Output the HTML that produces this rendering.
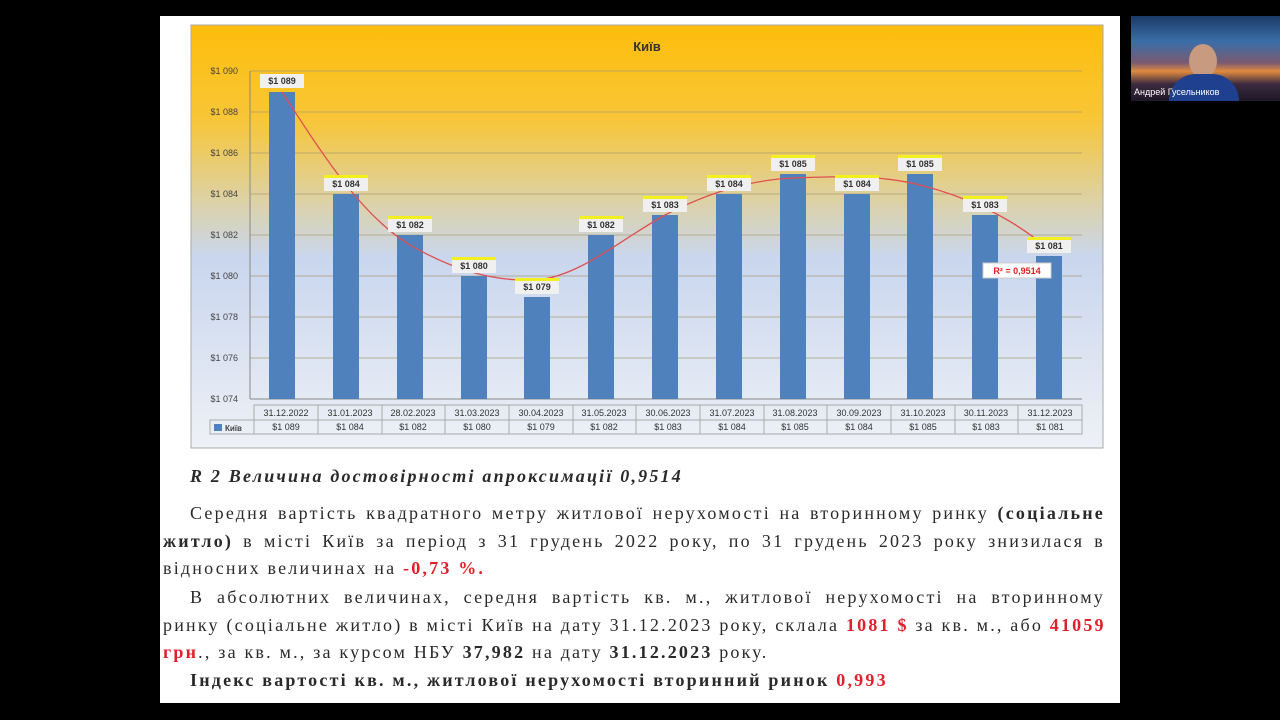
<!DOCTYPE html>
<html><head><meta charset="utf-8"><style>
body{margin:0;width:1280px;height:720px;background:#000;position:relative;overflow:hidden;font-family:"Liberation Serif",serif}
.page{position:absolute;left:160px;top:16px;width:960px;height:687px;background:#fff}
.ln{position:absolute;left:163px;width:942px;font-size:18px;letter-spacing:2.2px;color:#2a2a2a;white-space:nowrap;text-align:justify;text-align-last:justify;line-height:20px}
.ln b{font-weight:bold}
.r{color:#e0202a;font-weight:bold}
.cam{position:absolute;left:1131px;top:16px;width:149px;height:85px;background:linear-gradient(180deg,#1b3a66 0%,#3a6ea8 30%,#7a5a70 55%,#e08a40 65%,#3a2a40 80%,#201828 100%)}
</style></head><body>
<div class="page"></div>
<svg style="position:absolute;left:0;top:0" width="1280" height="720">
<defs>
<linearGradient id="bg" x1="0" y1="0" x2="0" y2="1">
<stop offset="0" stop-color="#fdbd0a"/><stop offset="0.22" stop-color="#f8c636"/><stop offset="0.42" stop-color="#dcd2a8"/><stop offset="0.55" stop-color="#c9d6ee"/><stop offset="1" stop-color="#eef1f6"/>
</linearGradient>
</defs>
<rect x="191" y="25" width="912" height="423" fill="url(#bg)" stroke="#aaa"/>
<text x="647" y="51" font-family="Liberation Sans" font-weight="bold" font-size="13" fill="#333" text-anchor="middle">Київ</text>
<g stroke="#a89a70" stroke-width="1" opacity="0.7">
<line x1="250" y1="71" x2="1082" y2="71"/><line x1="250" y1="112" x2="1082" y2="112"/><line x1="250" y1="153" x2="1082" y2="153"/><line x1="250" y1="194" x2="1082" y2="194"/><line x1="250" y1="235" x2="1082" y2="235"/><line x1="250" y1="276" x2="1082" y2="276"/><line x1="250" y1="317" x2="1082" y2="317"/><line x1="250" y1="358" x2="1082" y2="358"/>
</g>
<line x1="250" y1="71" x2="250" y2="399" stroke="#888"/><line x1="250" y1="399" x2="1082" y2="399" stroke="#888"/>
<g font-family="Liberation Sans" font-size="9" fill="#444" text-anchor="end">
<text x="238" y="74">$1 090</text><text x="238" y="115">$1 088</text><text x="238" y="156">$1 086</text><text x="238" y="197">$1 084</text><text x="238" y="238">$1 082</text><text x="238" y="279">$1 080</text><text x="238" y="320">$1 078</text><text x="238" y="361">$1 076</text><text x="238" y="402">$1 074</text>
</g>
<g fill="#4f81bd">
<rect x="269" y="92" width="26" height="307"/><rect x="333" y="194" width="26" height="205"/><rect x="397" y="235" width="26" height="164"/><rect x="461" y="276" width="26" height="123"/><rect x="524" y="297" width="26" height="102"/><rect x="588" y="235" width="26" height="164"/><rect x="652" y="215" width="26" height="184"/><rect x="716" y="194" width="26" height="205"/><rect x="780" y="174" width="26" height="225"/><rect x="844" y="194" width="26" height="205"/><rect x="907" y="174" width="26" height="225"/><rect x="972" y="215" width="26" height="184"/><rect x="1036" y="256" width="26" height="143"/>
</g>
<path d="M282,92 C320,150 360,215 410,245 C450,268 490,282 537,280 C580,276 620,240 665,215 C710,192 750,180 793,178 C840,176 880,175 920,185 C960,195 1010,215 1049,250" fill="none" stroke="#e05050" stroke-width="1.3"/>
<g font-family="Liberation Sans" font-weight="bold" font-size="9" fill="#333" text-anchor="middle">
<g fill="#f0f0f0"><rect x="260" y="74" width="44" height="14"/><rect x="324" y="177" width="44" height="14"/><rect x="388" y="218" width="44" height="14"/><rect x="452" y="259" width="44" height="14"/><rect x="515" y="280" width="44" height="14"/><rect x="579" y="218" width="44" height="14"/><rect x="643" y="198" width="44" height="14"/><rect x="707" y="177" width="44" height="14"/><rect x="771" y="157" width="44" height="14"/><rect x="835" y="177" width="44" height="14"/><rect x="898" y="157" width="44" height="14"/><rect x="963" y="198" width="44" height="14"/><rect x="1027" y="239" width="44" height="14"/></g>
<g fill="#f4f020"><rect x="324" y="175" width="44" height="3"/><rect x="388" y="216" width="44" height="3"/><rect x="452" y="257" width="44" height="3"/><rect x="515" y="278" width="44" height="3"/><rect x="579" y="216" width="44" height="3"/><rect x="643" y="196" width="44" height="3"/><rect x="707" y="175" width="44" height="3"/><rect x="771" y="155" width="44" height="3"/><rect x="835" y="175" width="44" height="3"/><rect x="898" y="155" width="44" height="3"/><rect x="963" y="196" width="44" height="3"/><rect x="1027" y="237" width="44" height="3"/></g>
<text x="282" y="84">$1 089</text><text x="346" y="187">$1 084</text><text x="410" y="228">$1 082</text><text x="474" y="269">$1 080</text><text x="537" y="290">$1 079</text><text x="601" y="228">$1 082</text><text x="665" y="208">$1 083</text><text x="729" y="187">$1 084</text><text x="793" y="167">$1 085</text><text x="857" y="187">$1 084</text><text x="920" y="167">$1 085</text><text x="985" y="208">$1 083</text><text x="1049" y="249">$1 081</text>
</g>
<rect x="983" y="263" width="68" height="15" fill="#fff" stroke="#ccc"/>
<text x="1017" y="274" font-family="Liberation Sans" font-weight="bold" font-size="9" fill="#e02020" text-anchor="middle">R² = 0,9514</text>
<g stroke="#aaa" fill="none"><rect x="254" y="405" width="828" height="29"/><rect x="210" y="420" width="44" height="14"/><line x1="254" y1="420" x2="1082" y2="420"/>
<line x1="318" y1="405" x2="318" y2="434"/><line x1="382" y1="405" x2="382" y2="434"/><line x1="445" y1="405" x2="445" y2="434"/><line x1="509" y1="405" x2="509" y2="434"/><line x1="573" y1="405" x2="573" y2="434"/><line x1="636" y1="405" x2="636" y2="434"/><line x1="700" y1="405" x2="700" y2="434"/><line x1="764" y1="405" x2="764" y2="434"/><line x1="827" y1="405" x2="827" y2="434"/><line x1="891" y1="405" x2="891" y2="434"/><line x1="955" y1="405" x2="955" y2="434"/><line x1="1018" y1="405" x2="1018" y2="434"/></g>
<rect x="214" y="424" width="8" height="7" fill="#4f81bd"/>
<text x="225" y="431" font-family="Liberation Sans" font-size="8" font-weight="bold" fill="#444">Київ</text>
<g font-family="Liberation Sans" font-size="9" fill="#333" text-anchor="middle">
<text x="286" y="416">31.12.2022</text><text x="350" y="416">31.01.2023</text><text x="413" y="416">28.02.2023</text><text x="477" y="416">31.03.2023</text><text x="541" y="416">30.04.2023</text><text x="604" y="416">31.05.2023</text><text x="668" y="416">30.06.2023</text><text x="732" y="416">31.07.2023</text><text x="795" y="416">31.08.2023</text><text x="859" y="416">30.09.2023</text><text x="923" y="416">31.10.2023</text><text x="986" y="416">30.11.2023</text><text x="1050" y="416">31.12.2023</text>
<text x="286" y="430">$1 089</text><text x="350" y="430">$1 084</text><text x="413" y="430">$1 082</text><text x="477" y="430">$1 080</text><text x="541" y="430">$1 079</text><text x="604" y="430">$1 082</text><text x="668" y="430">$1 083</text><text x="732" y="430">$1 084</text><text x="795" y="430">$1 085</text><text x="859" y="430">$1 084</text><text x="923" y="430">$1 085</text><text x="986" y="430">$1 083</text><text x="1050" y="430">$1 081</text>
</g>
</svg>
<div class="ln" style="top:466px;left:190px;width:auto;text-align:left;text-align-last:left;font-weight:bold;font-style:italic">R 2 Величина достовірності апроксимації 0,9514</div>
<div class="ln" style="top:503px;left:190px;width:915px">Середня вартість квадратного метру житлової нерухомості на вторинному ринку <b>(соціальне</b></div>
<div class="ln" style="top:531px"><b>житло)</b> в місті Київ за період з 31 грудень 2022 року, по 31 грудень 2023 року знизилася в</div>
<div class="ln" style="top:558px;width:auto;text-align-last:left">відносних величинах на <span class="r">-0,73 %.</span></div>
<div class="ln" style="top:587px;left:190px;width:915px">В абсолютних величинах, середня вартість кв. м., житлової нерухомості на вторинному</div>
<div class="ln" style="top:615px">ринку (соціальне житло) в місті Київ на дату 31.12.2023 року, склала <span class="r">1081 $</span> за кв. м., або <span class="r">41059</span></div>
<div class="ln" style="top:642px;width:auto;text-align-last:left"><span class="r">грн</span>., за кв. м., за курсом НБУ <b>37,982</b> на дату <b>31.12.2023</b> року.</div>
<div class="ln" style="top:670px;left:190px;width:auto;text-align-last:left;font-weight:bold">Індекс вартості кв. м., житлової нерухомості вторинний ринок <span class="r">0,993</span></div>
<div class="cam"><div style="position:absolute;left:58px;top:28px;width:28px;height:34px;border-radius:50%;background:#c89a80"></div><div style="position:absolute;left:38px;top:58px;width:70px;height:27px;border-radius:30px 30px 0 0;background:#1f3f8f"></div><div style="position:absolute;left:3px;top:71px;font-family:'Liberation Sans',sans-serif;font-size:9px;color:#fff">Андрей Гусельников</div></div>
</body></html>
